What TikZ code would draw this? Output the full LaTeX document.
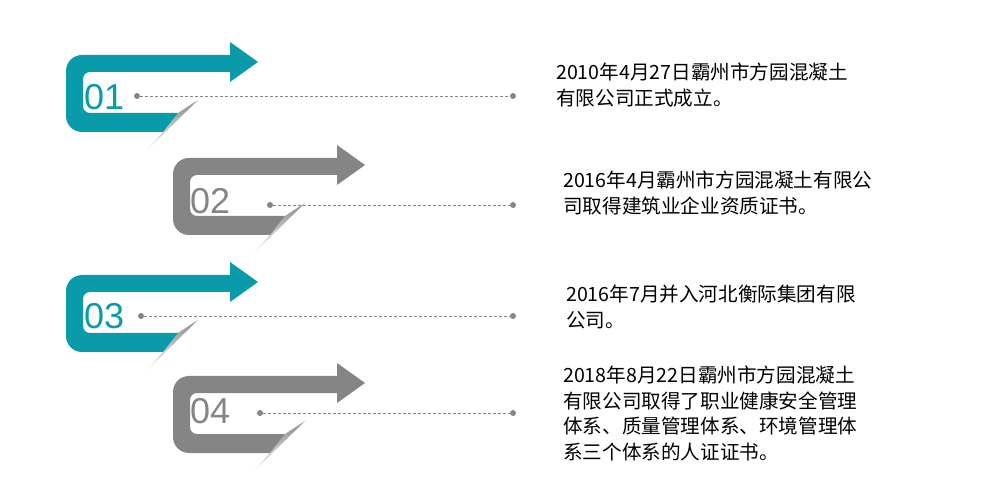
\documentclass[tikz,border=0pt]{standalone}
\usepackage{fontspec}
\setmainfont{Liberation Sans}
\newfontfamily\cjk{Noto Sans CJK SC}
\definecolor{teal1}{HTML}{0A9BAA}
\definecolor{grey1}{HTML}{858585}
\begin{document}
\begin{tikzpicture}[x=1pt,y=-1pt,
  numtext/.style={font=\fontsize{36}{36}\selectfont,anchor=west,inner sep=0},
  desc/.style={font=\cjk\fontsize{19.6}{25.5}\selectfont,anchor=north west,align=left,inner sep=0},
  leader/.style={densely dashed,draw=grey1,line width=0.8pt},
  dotst/.style={circle,fill=grey1,minimum size=6pt,inner sep=0}]
\useasboundingbox (0,0) rectangle (983,494);
\newcommand{\bendarrow}[3]{%
  \begin{scope}[shift={(#1,#2)}]
    \shade[top color=gray!90,bottom color=gray!10] (198,100) -- (178,113) -- (163,132) -- (146,151) -- cycle;
    \fill[#3] (230,72) [rounded corners=7] -- (83,72) -- (83,113) [sharp corners] -- (178,113) -- (163,132)
      [rounded corners=16] -- (66,132) -- (66,55) [sharp corners] -- (230,55) -- (230,42) -- (258,62) -- (230,82) -- cycle;
  \end{scope}}
\bendarrow{0}{0}{teal1}
\bendarrow{107}{103}{grey1}
\bendarrow{0}{220}{teal1}
\bendarrow{107}{321}{grey1}
\node[numtext,text=teal1] (n1) at (84,97) {01};
\node[numtext,text=grey1] (n2) at (190,201) {02};
\node[numtext,text=teal1] (n3) at (84,316) {03};
\node[numtext,text=grey1] (n4) at (190,411) {04};
\node[dotst] (a1) at (137,96) {}; \node[dotst] (b1) at (513,96) {};
\node[dotst] (a2) at (270,205) {}; \node[dotst] (b2) at (513,205) {};
\node[dotst] (a3) at (141,316) {}; \node[dotst] (b3) at (513,316) {};
\node[dotst] (a4) at (260,413) {}; \node[dotst] (b4) at (513,413) {};
\draw[leader] (a1) -- (b1); \draw[leader] (a2) -- (b2);
\draw[leader] (a3) -- (b3); \draw[leader] (a4) -- (b4);
\node[desc] (t1) at (556,63) {2010年4月27日霸州市方园混凝土\\有限公司正式成立。};
\node[desc] (t2) at (563,171) {2016年4月霸州市方园混凝土有限公\\司取得建筑业企业资质证书。};
\node[desc] (t3) at (566,285) {2016年7月并入河北衡际集团有限\\公司。};
\node[desc] (t4) at (563,366) {2018年8月22日霸州市方园混凝土\\有限公司取得了职业健康安全管理\\体系、质量管理体系、环境管理体\\系三个体系的人证证书。};
\end{tikzpicture}
\end{document}
